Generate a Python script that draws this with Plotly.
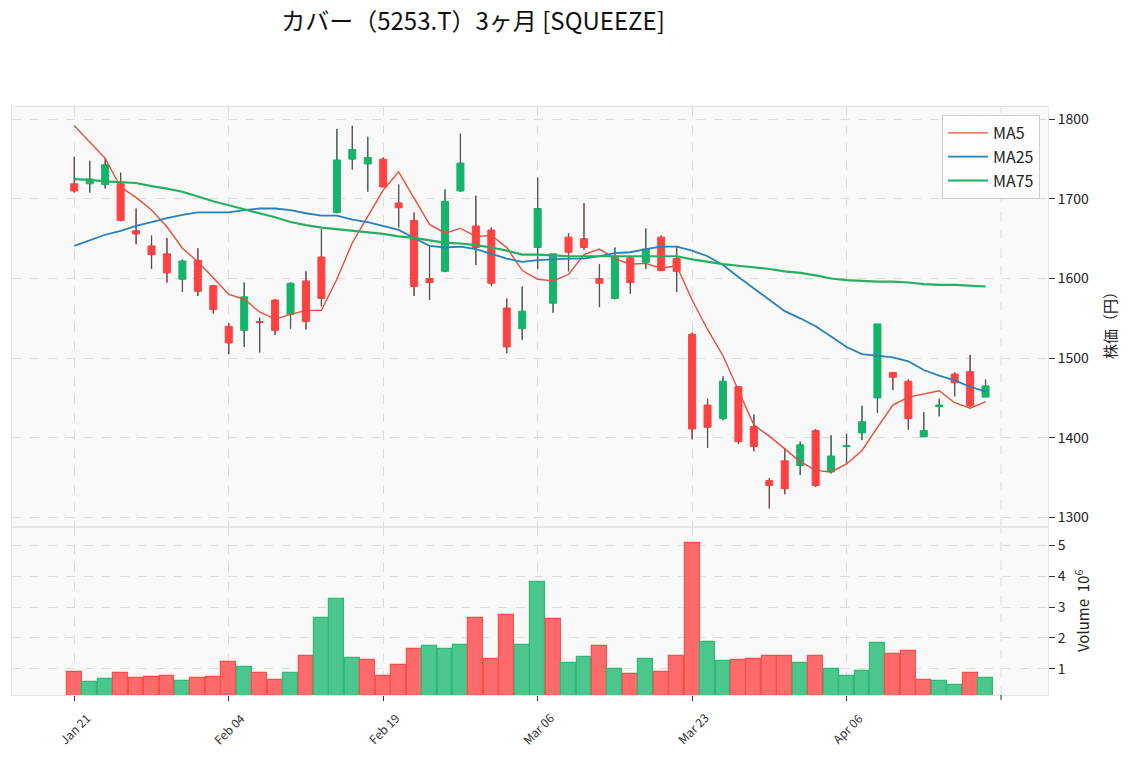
import plotly.graph_objects as go
from plotly.subplots import make_subplots

# ---------------- data ----------------
tick_labels = ["Jan 21", "Feb 04", "Feb 19", "Mar 06", "Mar 23", "Apr 06"]

opens = [1719, 1719, 1718, 1719, 1660, 1641, 1631, 1599, 1623, 1591,
         1540, 1535, 1546, 1573, 1555, 1597, 1627, 1683, 1750, 1744,
         1750, 1695, 1673, 1600, 1609, 1710, 1666, 1661, 1563, 1537,
         1639, 1569, 1652, 1650, 1600, 1575, 1626, 1620, 1652, 1625,
         1530, 1441, 1424, 1464, 1414, 1346, 1371, 1365, 1409, 1357,
         1389, 1406, 1450, 1482, 1471, 1401, 1439, 1480, 1483, 1451]
highs = [1753, 1748, 1751, 1733, 1688, 1654, 1651, 1624, 1638, 1592,
         1544, 1595, 1551, 1574, 1595, 1609, 1662, 1788, 1792, 1778,
         1752, 1718, 1683, 1640, 1712, 1782, 1704, 1664, 1575, 1590,
         1727, 1631, 1657, 1695, 1618, 1639, 1627, 1663, 1654, 1641,
         1532, 1449, 1477, 1465, 1429, 1349, 1387, 1395, 1411, 1403,
         1405, 1440, 1543, 1482, 1473, 1432, 1449, 1482, 1504, 1473]
lows = [1708, 1708, 1713, 1672, 1643, 1612, 1595, 1583, 1578, 1556,
        1505, 1514, 1507, 1529, 1537, 1536, 1565, 1682, 1737, 1709,
        1715, 1664, 1578, 1573, 1608, 1709, 1617, 1591, 1506, 1523,
        1612, 1557, 1609, 1636, 1564, 1574, 1581, 1612, 1610, 1583,
        1398, 1387, 1422, 1392, 1383, 1311, 1329, 1353, 1338, 1355,
        1368, 1397, 1431, 1460, 1410, 1401, 1427, 1452, 1439, 1451]
closes = [1710, 1725, 1743, 1673, 1656, 1630, 1607, 1622, 1584, 1561,
          1519, 1577, 1545, 1535, 1594, 1546, 1575, 1749, 1762, 1752,
          1715, 1689, 1590, 1595, 1697, 1745, 1639, 1594, 1514, 1559,
          1688, 1631, 1633, 1639, 1594, 1628, 1595, 1637, 1610, 1609,
          1411, 1413, 1471, 1395, 1389, 1340, 1336, 1391, 1340, 1377,
          1390, 1420, 1543, 1476, 1424, 1409, 1441, 1469, 1440, 1465]
volumes = [900000, 575000, 672000, 867000, 705000, 737000, 770000, 607000, 705000, 737000,
           1225000, 1062000, 867000, 640000, 867000, 1420000, 2660000, 3270000, 1355000, 1290000,
           770000, 1128000, 1648000, 1746000, 1648000, 1779000, 2660000, 1323000, 2754000, 1779000,
           3827000, 2600000, 1171000, 1366000, 1746000, 997000, 835000, 1323000, 900000, 1420000,
           5095000, 1875000, 1257000, 1290000, 1323000, 1420000, 1420000, 1171000, 1420000, 997000,
           748000, 932000, 1843000, 1485000, 1583000, 640000, 607000, 477000, 867000, 705000]
ma5 = [1792, 1772, 1751, 1715, 1702, 1686, 1665, 1638, 1621, 1601,
       1580, 1574, 1558, 1549, 1555, 1560, 1560, 1599, 1645, 1678,
       1711, 1734, 1701, 1668, 1657, 1663, 1653, 1654, 1639, 1610,
       1599, 1597, 1605, 1630, 1637, 1625, 1618, 1619, 1613, 1616,
       1573, 1536, 1503, 1460, 1416, 1402, 1386, 1370, 1359, 1357,
       1367, 1384, 1413, 1441, 1451, 1455, 1459, 1444, 1437, 1445]
ma25 = [1641, 1648, 1655, 1660, 1666, 1671, 1676, 1680, 1683, 1683,
        1683, 1686, 1688, 1688, 1686, 1682, 1679, 1679, 1674, 1671,
        1666, 1661, 1651, 1641, 1639, 1640, 1637, 1631, 1625, 1621,
        1623, 1624, 1625, 1625, 1628, 1632, 1633, 1637, 1640, 1640,
        1635, 1628, 1617, 1602, 1588, 1573, 1559, 1550, 1540, 1527,
        1514, 1505, 1503, 1501, 1496, 1485, 1478, 1472, 1464, 1458]
ma75 = [1725, 1724, 1722, 1721, 1720, 1716, 1713, 1709, 1703, 1697,
        1692, 1687, 1682, 1677, 1671, 1667, 1664, 1662, 1660, 1658,
        1656, 1653, 1651, 1648, 1645, 1644, 1642, 1639, 1635, 1630,
        1630, 1629, 1628, 1628, 1628, 1628, 1628, 1628, 1628, 1628,
        1624, 1621, 1618, 1616, 1614, 1612, 1609, 1607, 1604, 1600,
        1598, 1597, 1596, 1596, 1595, 1593, 1592, 1592, 1591, 1590]

# ---------------- styling ----------------
W, H = 1129, 760
FONT = "Noto Sans CJK JP, Noto Sans, sans-serif"
UP, DOWN = "#15b36c", "#ff4242"
VUP_FILL, VUP_EDGE = "#4bc78d", "#2fb877"
VDN_FILL, VDN_EDGE = "#ff6b6b", "#ff4c4c"
GRID = "#dcdcdc"
BG = "#f9f9f9"

# panel pixel boxes
PX_L, PX_R = 12, 1048
PRICE_T, PRICE_B = 107, 527
VOL_T, VOL_B = 527, 695

n = len(closes)
idx = list(range(n))

fig = make_subplots(rows=2, cols=1, shared_xaxes=True, vertical_spacing=0)

# candles
fig.add_trace(go.Candlestick(
    x=idx, open=opens, high=highs, low=lows, close=closes,
    increasing=dict(line=dict(color=UP, width=1), fillcolor=UP),
    decreasing=dict(line=dict(color=DOWN, width=1), fillcolor=DOWN),
    whiskerwidth=0, showlegend=False, hoverinfo="skip"), row=1, col=1)

# gray wicks outside the bodies
wx, wy = [], []
for i, (o, h, l, c) in enumerate(zip(opens, highs, lows, closes)):
    top, bot = max(o, c), min(o, c)
    if h > top:
        wx += [i, i, None]; wy += [top, h, None]
    if l < bot:
        wx += [i, i, None]; wy += [l, bot, None]
fig.add_trace(go.Scatter(x=wx, y=wy, mode="lines",
                         line=dict(color="#555555", width=1.3),
                         showlegend=False, hoverinfo="skip"), row=1, col=1)

# moving averages
fig.add_trace(go.Scatter(x=idx, y=ma5, mode="lines", name="MA5",
                         line=dict(color="#e74c3c", width=1.4)), row=1, col=1)
fig.add_trace(go.Scatter(x=idx, y=ma25, mode="lines", name="MA25",
                         line=dict(color="#2980b9", width=1.8)), row=1, col=1)
fig.add_trace(go.Scatter(x=idx, y=ma75, mode="lines", name="MA75",
                         line=dict(color="#27ae60", width=2.2)), row=1, col=1)

# volume (coloured by close vs previous close)
vfill, vedge = [], []
for i in range(n):
    up = closes[i] >= closes[i - 1] if i > 0 else closes[i] >= opens[i]
    vfill.append(VUP_FILL if up else VDN_FILL)
    vedge.append(VUP_EDGE if up else VDN_EDGE)
fig.add_trace(go.Bar(x=idx, y=volumes, width=0.96,
                     marker=dict(color=vfill, line=dict(color=vedge, width=1.2)),
                     showlegend=False, hoverinfo="skip"), row=2, col=1)

# ---------------- layout ----------------
xd = [PX_L / W, PX_R / W]
price_dom = [1 - PRICE_B / H, 1 - PRICE_T / H]
vol_dom = [1 - VOL_B / H, 1 - VOL_T / H]

x_spacing = (1001 - 74.3) / 60.0
x_lo = (PX_L - 74.3) / x_spacing
x_hi = (PX_R - 74.3) / x_spacing
label_pos = list(range(0, 10 * len(tick_labels), 10))
end_tick = 10 * len(tick_labels)

axis_common = dict(showgrid=True, gridcolor=GRID, griddash="dash", gridwidth=1,
                   showline=True, linecolor="#e6e6e6", linewidth=1, mirror=True,
                   zeroline=False)

fig.update_layout(
    width=W, height=H,
    margin=dict(l=0, r=0, t=0, b=0),
    paper_bgcolor="white", plot_bgcolor=BG,
    font=dict(family=FONT, color="#222222", size=13),
    boxgap=0.35, bargap=0,
    showlegend=True,
    legend=dict(x=1040 / W, y=1 - 115 / H, xanchor="right", yanchor="top",
                bgcolor="rgba(255,255,255,0.85)", bordercolor="#cccccc", borderwidth=1,
                font=dict(size=16, family=FONT, color="#222222"),
                itemwidth=40, tracegroupgap=0),
    title=dict(text="カバー（5253.T）3ヶ月 [SQUEEZE]", x=473 / W, xanchor="center",
               y=1 - 22 / H, yanchor="middle",
               font=dict(size=24, family=FONT, color="#111111")),
)

fig.update_xaxes(domain=xd, range=[x_lo, x_hi], tickmode="array", tickvals=label_pos,
                 rangeslider=dict(visible=False), showticklabels=False, **axis_common)
fig.update_xaxes(ticks="", row=1, col=1)
fig.update_xaxes(ticks="outside", ticklen=5, tickcolor="#333333", row=2, col=1)

fig.update_yaxes(domain=price_dom, range=[1287.8, 1815.5], side="right",
                 tickmode="array", tickvals=[1300, 1400, 1500, 1600, 1700, 1800],
                 ticks="outside", ticklen=6, tickcolor="#333333",
                 tickfont=dict(size=14, color="#222222"), **axis_common, row=1, col=1)
fig.update_yaxes(domain=vol_dom, range=[143000, 5600000], side="right",
                 tickmode="array", tickvals=[1e6, 2e6, 3e6, 4e6, 5e6],
                 ticktext=["1", "2", "3", "4", "5"],
                 ticks="outside", ticklen=6, tickcolor="#333333",
                 tickfont=dict(size=14, color="#222222"), **axis_common, row=2, col=1)

# x tick labels rotated about their centres (matplotlib style)
for pos, lab in zip(label_pos, tick_labels):
    fig.add_annotation(text=lab, x=pos, xref="x2", y=1 - 728 / H, yref="paper",
                       textangle=-45, showarrow=False, xanchor="center", yanchor="middle",
                       font=dict(size=12, family=FONT, color="#333333"))

# unlabeled final x tick: gridlines in both panels and tick mark
fig.add_shape(type="line", xref="x", yref="y domain", x0=end_tick, x1=end_tick, y0=0, y1=1,
              line=dict(color=GRID, width=1, dash="dash"), layer="below")
fig.add_shape(type="line", xref="x2", yref="y2 domain", x0=end_tick, x1=end_tick, y0=0, y1=1,
              line=dict(color=GRID, width=1, dash="dash"), layer="below")
fig.add_shape(type="line", xref="x2", yref="paper", x0=end_tick, x1=end_tick,
              y0=1 - VOL_B / H, y1=1 - (VOL_B + 5) / H,
              line=dict(color="#333333", width=1))

# axis titles as annotations
fig.add_annotation(text="株価（円）", x=1109 / W, y=1 - 322 / H, xref="paper", yref="paper",
                   textangle=-90, showarrow=False, font=dict(size=15, family=FONT, color="#222222"),
                   xanchor="center", yanchor="middle")
fig.add_annotation(text="Volume  10<sup>6</sup>", x=1082 / W, y=1 - 611 / H, xref="paper", yref="paper",
                   textangle=-90, showarrow=False, font=dict(size=15, family=FONT, color="#222222"),
                   xanchor="center", yanchor="middle")

fig.write_html("out.html", config={"displayModeBar": False},
               post_script="document.body.style.margin='0px';")
